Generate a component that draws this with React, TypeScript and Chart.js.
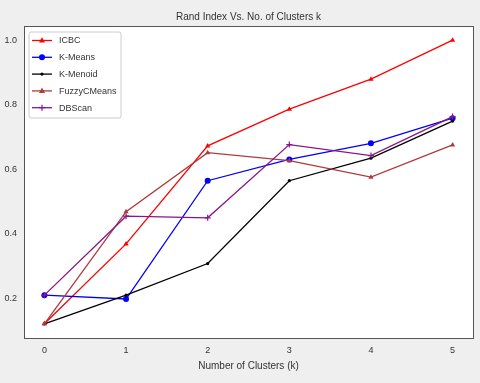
import React, { useEffect, useRef } from "react";
import { Chart, registerables } from "chart.js";

Chart.register(...registerables);

const categories = [0, 1, 2, 3, 4, 5];
const icbc = [0.12, 0.368, 0.672, 0.786, 0.879, 1.0];
const kMeans = [0.209, 0.197, 0.564, 0.63, 0.68, 0.758];
const kMenoid = [0.12, 0.209, 0.307, 0.564, 0.634, 0.749];
const fuzzyCMeans = [0.12, 0.468, 0.651, 0.626, 0.575, 0.675];
const dbScan = [0.209, 0.454, 0.449, 0.676, 0.642, 0.763];
const seriesNames = ["ICBC", "K-Means", "K-Menoid", "FuzzyCMeans", "DBScan"];
const xTicks = [0, 1, 2, 3, 4, 5];
const yTicks = [0.2, 0.4, 0.6, 0.8, 1.0];

const FONT = "'Liberation Sans', Arial, sans-serif";
const TEXT = "#333333";

const allVals = [...icbc, ...kMeans, ...kMenoid, ...fuzzyCMeans, ...dbScan];
const yLo = Math.min(...allVals);
const yHi = Math.max(...allVals);
const yPad = (yHi - yLo) * 0.05;
const xLo = Math.min(...categories);
const xHi = Math.max(...categories);
const xPad = (xHi - xLo) * 0.05;

function drawMarker(ctx: CanvasRenderingContext2D, style: string, x: number, y: number, r: number, color: string) {
  ctx.save();
  ctx.fillStyle = color;
  ctx.strokeStyle = color;
  ctx.lineWidth = 1.2;
  ctx.beginPath();
  if (style === "triangle") {
    ctx.moveTo(x, y - r * 1.1);
    ctx.lineTo(x + r, y + r * 0.7);
    ctx.lineTo(x - r, y + r * 0.7);
    ctx.closePath();
    ctx.fill();
  } else if (style === "circle") {
    ctx.arc(x, y, r, 0, Math.PI * 2);
    ctx.fill();
  } else if (style === "cross") {
    ctx.moveTo(x - r, y);
    ctx.lineTo(x + r, y);
    ctx.moveTo(x, y - r);
    ctx.lineTo(x, y + r);
    ctx.stroke();
  }
  ctx.restore();
}

const framePlugin = {
  id: "frame",
  beforeDraw(chart: any) {
    const { ctx, chartArea: a } = chart;
    ctx.save();
    ctx.fillStyle = "#efefef";
    ctx.fillRect(0, 0, chart.width, chart.height);
    ctx.fillStyle = "#ffffff";
    ctx.fillRect(a.left, a.top, a.right - a.left, a.bottom - a.top);
    ctx.restore();
  },
  afterDraw(chart: any) {
    const { ctx, chartArea: a } = chart;
    ctx.save();
    ctx.strokeStyle = "#555555";
    ctx.lineWidth = 1;
    ctx.strokeRect(Math.round(a.left) + 0.5, Math.round(a.top) + 0.5, Math.round(a.right - a.left), Math.round(a.bottom - a.top));
    // legend
    const bx = 29, by = 32, bw = 92, bh = 86;
    ctx.fillStyle = "rgba(255,255,255,0.85)";
    ctx.strokeStyle = "#cccccc";
    ctx.beginPath();
    const rr = 2;
    ctx.moveTo(bx + rr, by);
    ctx.lineTo(bx + bw - rr, by);
    ctx.quadraticCurveTo(bx + bw, by, bx + bw, by + rr);
    ctx.lineTo(bx + bw, by + bh - rr);
    ctx.quadraticCurveTo(bx + bw, by + bh, bx + bw - rr, by + bh);
    ctx.lineTo(bx + rr, by + bh);
    ctx.quadraticCurveTo(bx, by + bh, bx, by + bh - rr);
    ctx.lineTo(bx, by + rr);
    ctx.quadraticCurveTo(bx, by, bx + rr, by);
    ctx.closePath();
    ctx.fill();
    ctx.stroke();
    chart.data.datasets.forEach((ds: any, i: number) => {
      const y = 40.5 + i * 16.8;
      ctx.strokeStyle = ds.borderColor;
      ctx.lineWidth = 1.3;
      ctx.beginPath();
      ctx.moveTo(32, y);
      ctx.lineTo(52, y);
      ctx.stroke();
      drawMarker(ctx, ds.pointStyle, 42, y, ds.pointRadius, ds.borderColor);
      ctx.fillStyle = TEXT;
      ctx.font = `9px ${FONT}`;
      ctx.textAlign = "left";
      ctx.textBaseline = "middle";
      ctx.fillText(ds.label, 59, y + 0.5);
    });
    ctx.restore();
  },
};

function mk(label: string, vals: number[], color: string, style: string, radius: number, order: number) {
  return {
    label,
    data: vals.map((v, i) => ({ x: categories[i], y: v })),
    borderColor: color,
    backgroundColor: color,
    borderWidth: 1.3,
    pointStyle: style,
    pointRadius: radius,
    pointBorderWidth: style === "cross" ? 1.2 : 0,
    pointBackgroundColor: color,
    pointBorderColor: color,
    tension: 0,
    order,
  };
}

export default function App() {
  const ref = useRef<HTMLCanvasElement>(null);
  useEffect(() => {
    document.body.style.margin = "0";
    const chart = new Chart(ref.current!, {
      type: "line",
      data: {
        datasets: [
          mk(seriesNames[0], icbc, "#ff0000", "triangle", 3, 4),
          mk(seriesNames[1], kMeans, "#0000ff", "circle", 3, 3),
          mk(seriesNames[2], kMenoid, "#000000", "circle", 1.6, 2),
          mk(seriesNames[3], fuzzyCMeans, "#b03a3a", "triangle", 3, 1),
          mk(seriesNames[4], dbScan, "#86168a", "cross", 3, 0),
        ] as any,
      },
      options: {
        animation: false,
        responsive: false,
        layout: { padding: { left: 0, right: 7, top: 0, bottom: 0 } },
        plugins: {
          legend: { display: false },
          tooltip: { enabled: false },
          title: {
            display: true,
            text: "Rand Index Vs. No. of Clusters k",
            color: TEXT,
            fullSize: false,
            font: { family: FONT, size: 10, weight: "normal" as any, lineHeight: 1.2 },
            padding: { top: 11, bottom: 3 },
          },
        },
        scales: {
          x: {
            type: "linear",
            min: xLo - xPad,
            max: xHi + xPad,
            grid: { display: false, drawTicks: false },
            border: { display: false },
            afterBuildTicks: (s: any) => { s.ticks = xTicks.map((v) => ({ value: v })); },
            afterFit: (s: any) => { s.height = 45; },
            ticks: {
              color: TEXT,
              padding: 7,
              autoSkip: false,
              maxRotation: 0,
              font: { family: FONT, size: 9 },
              callback: (v: any) => String(v),
            },
            title: {
              display: true,
              text: "Number of Clusters (k)",
              color: TEXT,
              font: { family: FONT, size: 10, lineHeight: 1.2 },
              padding: { top: 0, bottom: 11 },
            },
          },
          y: {
            type: "linear",
            min: yLo - yPad,
            max: yHi + yPad,
            grid: { display: false, drawTicks: false },
            border: { display: false },
            afterBuildTicks: (s: any) => { s.ticks = yTicks.map((v) => ({ value: v })); },
            afterFit: (s: any) => { s.width = 24; },
            ticks: {
              color: TEXT,
              padding: 7,
              autoSkip: false,
              font: { family: FONT, size: 9 },
              callback: (v: any) => Number(v).toFixed(1),
            },
          },
        },
      },
      plugins: [framePlugin],
    });
    return () => chart.destroy();
  }, []);
  return (
    <div style={{ position: "fixed", left: 0, top: 0, width: 480, height: 383, background: "#efefef" }}>
      <canvas ref={ref} width={480} height={383} style={{ display: "block", width: 480, height: 383 }} />
    </div>
  );
}
